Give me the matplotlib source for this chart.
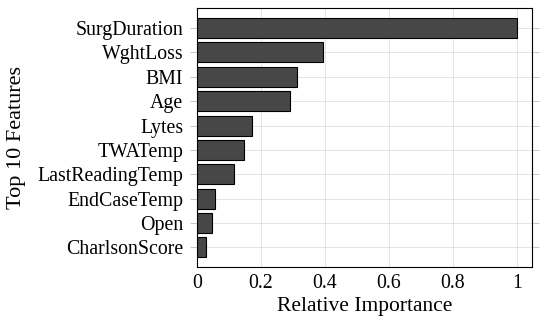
import matplotlib
matplotlib.use("Agg")
import matplotlib.pyplot as plt

features = ["SurgDuration", "WghtLoss", "BMI", "Age", "Lytes", "TWATemp",
            "LastReadingTemp", "EndCaseTemp", "Open", "CharlsonScore"]
importance = [1.0, 0.393, 0.313, 0.291, 0.172, 0.148, 0.116, 0.055, 0.046, 0.028]
xticks = [0, 0.2, 0.4, 0.6, 0.8, 1]
xticklabels = ["0", "0.2", "0.4", "0.6", "0.8", "1"]

plt.rcParams['font.family'] = ['Liberation Serif', 'DejaVu Serif']

fig = plt.figure(figsize=(5.5, 3.25), dpi=100)
ax = fig.add_axes([197 / 550, 1 - 267 / 325, (532 - 197) / 550, (267 - 8) / 325])

pos = list(range(len(features)))
ax.barh(pos, importance, height=0.82, color="#474747", edgecolor="black",
        linewidth=0.8, zorder=3)

ax.set_xlim(0, 1.047)
ax.set_ylim(len(features) - 0.2, -0.82)
ax.set_xticks(xticks)
ax.set_xticklabels(xticklabels)
ax.set_yticks(pos)
ax.set_yticklabels(features)
ax.grid(True, color="#e4e4e4", linewidth=0.7, zorder=0)
ax.tick_params(axis="x", length=0, labelsize=14.3, pad=5)
ax.tick_params(axis="y", length=5, color="#bbbbbb", width=0.6, labelsize=14.3,
               pad=5, right=True, direction="out")
for s in ax.spines.values():
    s.set_linewidth(0.8)

ax.set_xlabel("Relative Importance", fontsize=15.5, labelpad=3)
ax.set_ylabel("Top 10 Features", fontsize=16, labelpad=8)

fig.savefig("out.png", dpi=100)
